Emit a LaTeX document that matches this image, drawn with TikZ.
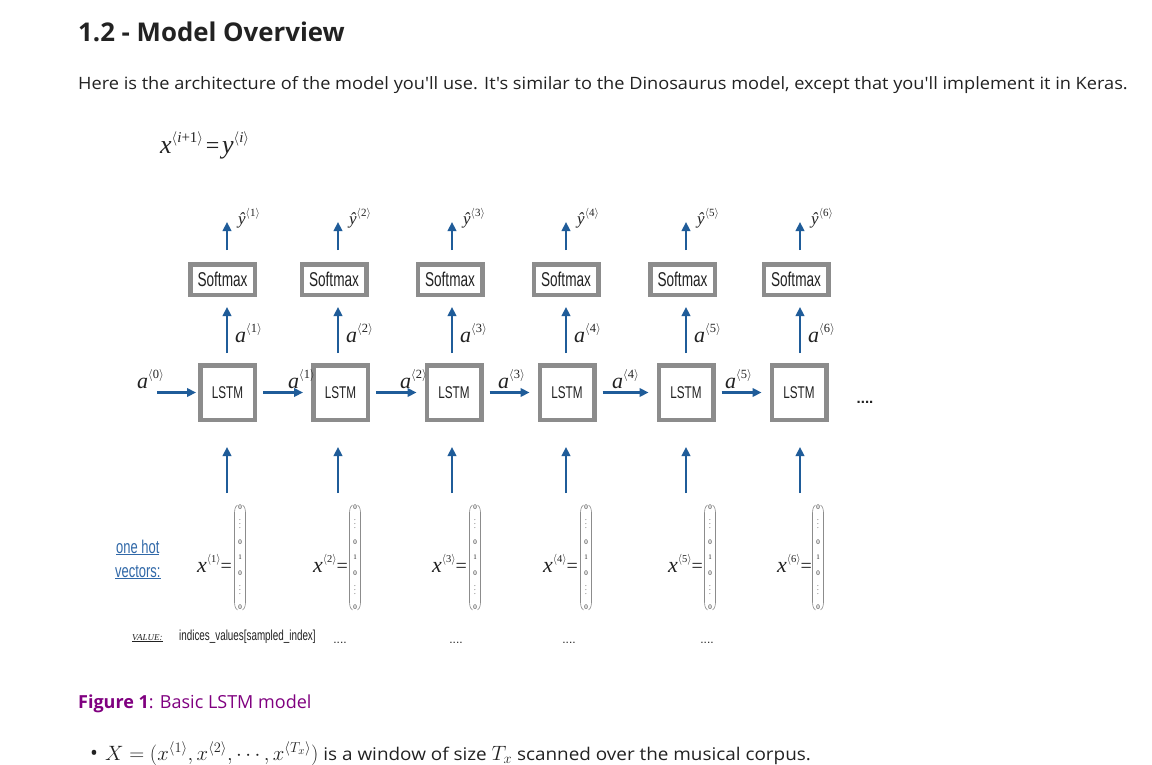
\documentclass[tikz,border=0pt]{standalone}
\usepackage{fontspec}
\usetikzlibrary{arrows.meta}
\newfontfamily\dsans{Liberation Sans}
\newfontfamily\dserif{Liberation Serif}
\newfontfamily\uisans{Open Sans}
\definecolor{boxgray}{HTML}{8C8C8C}
\definecolor{arrblue}{HTML}{1F5C99}
\definecolor{linkblue}{HTML}{3068A8}
\definecolor{capurple}{HTML}{800080}
\definecolor{txt}{HTML}{222222}
\newcommand\angsup[3]{\raisebox{#2}{\fontsize{#1}{#1}\selectfont$\langle$#3$\rangle$}}
\newcommand\vlab[2]{{\dserif\itshape\fontsize{22}{22}\selectfont #1}\angsup{12.5}{10pt}{\dserif #2}}
\newcommand\ylab[1]{{\dserif\itshape\fontsize{17}{17}\selectfont ŷ}\angsup{11}{8pt}{\dserif #1}}
\begin{document}
\begin{tikzpicture}[x=1pt,y=-1pt,
  smbox/.style={draw=boxgray, line width=4.5pt, fill=white, minimum width=64.5pt, minimum height=30.5pt, inner sep=0pt},
  lstmbox/.style={draw=boxgray, line width=4.5pt, fill=white, minimum width=54.5pt, minimum height=54.5pt, inner sep=0pt},
  arr/.style={draw=arrblue, line width=2.3pt, -{Triangle[length=9pt,width=8.5pt]}},
  lbl/.style={inner sep=0pt, anchor=base west, text=txt},
  dotsl/.style={inner sep=0pt, anchor=base, text=txt, font=\dsans\fontsize{12}{12}\selectfont}
]
\useasboundingbox (0,0) rectangle (1152,765);
\fill[white] (0,0) rectangle (1152,765);

% heading and paragraph
\node[lbl] (title) at (78,42) {\uisans\bfseries\fontsize{25.8}{26}\selectfont 1.2 - Model Overview};
\node[lbl] (para) at (78,90) {\uisans\fontsize{17}{17}\selectfont\scalebox{1.07}[1]{Here is the architecture of the model you'll use. It's similar to the Dinosaurus model, except that you'll implement it in Keras.}};
\node[lbl] (eq) at (160,154) {{\dserif\itshape\fontsize{26}{26}\selectfont x}\angsup{15}{11pt}{\dserif\itshape i\upshape+1}\;{\dserif\fontsize{24}{24}\selectfont =}\;{\dserif\itshape\fontsize{26}{26}\selectfont y}\angsup{15}{11pt}{\dserif\itshape i}};

% columns
\foreach \i/\sx/\lx/\ax/\vx/\xl in {1/222.5/227.5/227/240/197, 2/334/340.5/338/355/313, 3/450/454/452/475/432, 4/566/567/566/586/543, 5/682.5/686/686/710/668, 6/796/799/800/818/777}{
  \node[smbox] (s\i) at (\sx,279.5) {\dsans\fontsize{20}{20}\selectfont\scalebox{0.68}[1]{\color{txt}Softmax}};
  \node[lstmbox] (l\i) at (\lx,392.5) {\dsans\fontsize{17}{17}\selectfont\scalebox{0.69}[1]{\color{txt}LSTM}};
  \coordinate (yt\i) at (\ax,222);
  \coordinate (xb\i) at (\ax,493);
  \draw[arr] ([yshift=12pt]s\i.north -| yt\i) -- (yt\i);
  \draw[arr] ([yshift=10pt]l\i.north -| yt\i) -- ([yshift=-10pt]s\i.south -| yt\i);
  \draw[arr] (xb\i) -- ([yshift=-25pt]l\i.south -| xb\i);
  \node[lbl] (yl\i) at (\ax+11,225) {\ylab{\i}};
  \node[lbl] (al\i) at (\ax+8,342) {\vlab{a}{\i}};
  % one-hot vector
  \node[lbl] (xl\i) at (\xl,572) {{\dserif\itshape\fontsize{22}{22}\selectfont x}\angsup{10.5}{10pt}{\dserif\i}{\dserif\fontsize{20}{20}\selectfont =}};
  \node[inner sep=0pt, anchor=center, text=txt] (v\i) at (\vx,556.5) {\dserif\fontsize{7}{15.5}\selectfont\begin{tabular}{@{}c@{}}0\\$\vdots$\\0\\1\\0\\$\vdots$\\0\end{tabular}};
  \draw[boxgray, line width=0.6pt] (\vx-2.5,505) .. controls (\vx-5.5,507) and (\vx-5.5,511) .. (\vx-5.5,515) -- (\vx-5.5,600) .. controls (\vx-5.5,604) and (\vx-5.5,608) .. (\vx-2.5,610);
  \draw[boxgray, line width=0.6pt] (\vx+2.5,505) .. controls (\vx+5.5,507) and (\vx+5.5,511) .. (\vx+5.5,515) -- (\vx+5.5,600) .. controls (\vx+5.5,604) and (\vx+5.5,608) .. (\vx+2.5,610);
}

% horizontal connections
\coordinate (a0s) at (157,392.5);
\draw[arr] (a0s) -- ([xshift=-2pt]l1.west);
\node[lbl] (h0) at (137,388) {\vlab{a}{0}};
\foreach \i/\j/\hx in {1/2/288, 2/3/400, 3/4/498, 4/5/612, 5/6/725}{
  \draw[arr] ([xshift=6pt]l\i.east) -- ([xshift=-8pt]l\j.west);
  \node[lbl] (h\i) at (\hx,388) {\vlab{a}{\i}};
}
\node[inner sep=0pt, anchor=base, text=txt] (rdots) at (865,403) {\dsans\bfseries\fontsize{15}{15}\selectfont ....};

% left annotations
\node[lbl, text=linkblue] (oh1) at (116,553) {\dsans\fontsize{18.5}{18.5}\selectfont\scalebox{0.7}[1]{\underline{one hot}}};
\node[lbl, text=linkblue] (oh2) at (115,577) {\dsans\fontsize{18.5}{18.5}\selectfont\scalebox{0.7}[1]{\underline{vectors:}}};
\node[lbl] (val) at (132,640) {\dserif\itshape\fontsize{9}{9}\selectfont\underline{VALUE:}};
\node[lbl] (idx) at (179,640) {\dsans\fontsize{14.5}{14.5}\selectfont\scalebox{0.68}[1]{indices\_values[sampled\_index]}};
\node[dotsl] (d1) at (340,643) {....};
\node[dotsl] (d2) at (456,643) {....};
\node[dotsl] (d3) at (569,643) {....};
\node[dotsl] (d4) at (707,643) {....};

% caption and bullet
\node[lbl, text=capurple] (cap) at (78,708) {\uisans\fontsize{18}{18}\selectfont\textbf{Figure 1}: Basic LSTM model};
\node[lbl] (bul) at (90,760) {\uisans\fontsize{21}{21}\selectfont •\hspace{7pt}\fontsize{22.5}{24}\selectfont$X=(x^{\langle1\rangle},x^{\langle2\rangle},\cdots,x^{\langle T_x\rangle})$\fontsize{17.5}{17.5}\selectfont\scalebox{1.08}[1]{\ is a window of size }\fontsize{22.5}{24}\selectfont$T_x$\fontsize{17.5}{17.5}\selectfont\scalebox{1.08}[1]{\ scanned over the musical corpus.}};
\end{tikzpicture}
\end{document}
